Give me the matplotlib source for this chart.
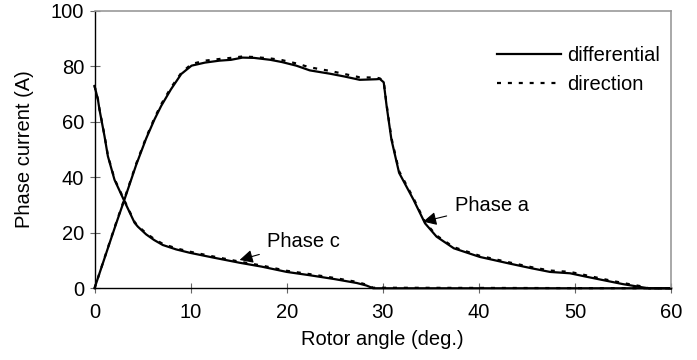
import matplotlib
matplotlib.use("Agg")
import matplotlib.pyplot as plt

plt.rcParams['font.family'] = ['Liberation Sans', 'DejaVu Sans']
FS = 14.5

# phase a current
angle_a = [0, 1.56, 2.26, 3.12, 4.34, 5.38, 6.25, 6.94, 7.96, 9.03, 10.1, 11.5,
           13.0, 14.2, 15.4, 16.6, 18.3, 19.5, 21.0, 22.4, 24.5, 26.0, 27.6, 29.3,
           29.7, 30.1, 30.4, 30.9, 31.7, 33.2, 34.4, 35.6, 37.4, 40.1, 43.2, 45.5,
           47.4, 49.5, 51.0, 53.0, 55.0, 57.1, 57.7, 60]
ia_diff = [0, 16.2, 23.4, 32, 44.5, 54.0, 60.9, 65.7, 71.7, 77.2, 80.2, 81.3, 82.0,
           82.3, 83.1, 83.0, 82.3, 81.5, 80.2, 78.5, 77.3, 76.3, 75.1, 75.3, 75.4,
           74.2, 65.7, 53.6, 41.6, 31.9, 23.4, 18.6, 14.4, 11.3, 8.9, 7.2, 5.9,
           5.4, 4.3, 2.9, 1.5, 0.3, 0, 0]
ia_dir = [0, 16.4, 23.7, 32.3, 44.9, 54.4, 61.4, 66.3, 72.3, 77.6, 80.8, 82.0,
          82.6, 83.0, 83.5, 83.3, 82.8, 82.2, 81.0, 79.6, 78.3, 77.2, 76.0, 75.9,
          75.6, 74.5, 66.2, 54.2, 42.2, 32.4, 23.8, 19.0, 14.8, 11.7, 9.3, 7.6,
          6.4, 5.9, 4.8, 3.3, 1.9, 0.6, 0, 0]

# phase c current
angle_c = [0, 0.35, 0.51, 1.04, 1.39, 2.08, 3.12, 4.17, 4.51, 5.38, 6.2, 7.1, 8.5,
           9.9, 12.3, 15.1, 17.4, 20.0, 22.4, 25.0, 27.3, 28.3, 29.0, 60]
ic_diff = [72.9, 68.1, 64.5, 54.8, 47.6, 39.1, 31.3, 23.6, 22.2, 19.4, 17.4, 15.6,
           14.0, 12.8, 11.1, 9.2, 7.8, 5.9, 4.7, 3.3, 1.9, 1.0, 0, 0]
ic_dir = [72.9, 68.2, 64.7, 55.1, 47.9, 39.4, 31.6, 23.9, 22.5, 19.8, 17.8, 16.0,
          14.4, 13.2, 11.5, 9.6, 8.2, 6.3, 5.1, 3.7, 2.3, 1.3, 0.2, 0]

fig = plt.figure(figsize=(6.97, 3.6), dpi=100)
ax = fig.add_axes([0.1356, 0.1992, 0.8271, 0.7711])

dash = (0, (1.8, 3.1))
ax.plot(angle_a, ia_diff, color='black', lw=1.6, label='differential', clip_on=False)
ax.plot(angle_c, ic_diff, color='black', lw=1.6, clip_on=False)
ax.plot(angle_a, ia_dir, color='black', lw=1.6, ls=dash, label='direction', clip_on=False)
ax.plot(angle_c, ic_dir, color='black', lw=1.6, ls=dash, clip_on=False)

ax.set_xlim(0, 60)
ax.set_ylim(0, 100)
ax.set_xticks(range(0, 61, 10))
ax.set_yticks(range(0, 101, 20))
ax.tick_params(direction='inout', length=7, width=0.8, color='#666666', labelsize=FS)
ax.tick_params(axis='x', pad=7)
ax.tick_params(axis='y', pad=4)

for s in ['top', 'right']:
    ax.spines[s].set_color('#999999')
    ax.spines[s].set_linewidth(1.2)
for s in ['left', 'bottom']:
    ax.spines[s].set_color('black')
    ax.spines[s].set_linewidth(1.0)

ax.set_xlabel('Rotor angle (deg.)', fontsize=FS, labelpad=6)
ax.set_ylabel('Phase current (A)', fontsize=FS, labelpad=12)

ax.annotate('Phase c', xy=(15.1, 10.2), xytext=(18.0, 16.7), fontsize=FS,
            va='center', ha='left',
            arrowprops=dict(arrowstyle='-|>', color='black', lw=0.8,
                            mutation_scale=20, shrinkA=4, shrinkB=0))
ax.annotate('Phase a', xy=(34.2, 24.0), xytext=(37.5, 30.0), fontsize=FS,
            va='center', ha='left',
            arrowprops=dict(arrowstyle='-|>', color='black', lw=0.8,
                            mutation_scale=20, shrinkA=4, shrinkB=0))

ax.legend(loc='upper left', bbox_to_anchor=(497 / 697, 1 - 46 / 360),
          bbox_transform=fig.transFigure, frameon=False, fontsize=FS,
          borderpad=0, borderaxespad=0, handlelength=3.2, handletextpad=0.3,
          labelspacing=0.5)

fig.savefig('out.png', dpi=100)
